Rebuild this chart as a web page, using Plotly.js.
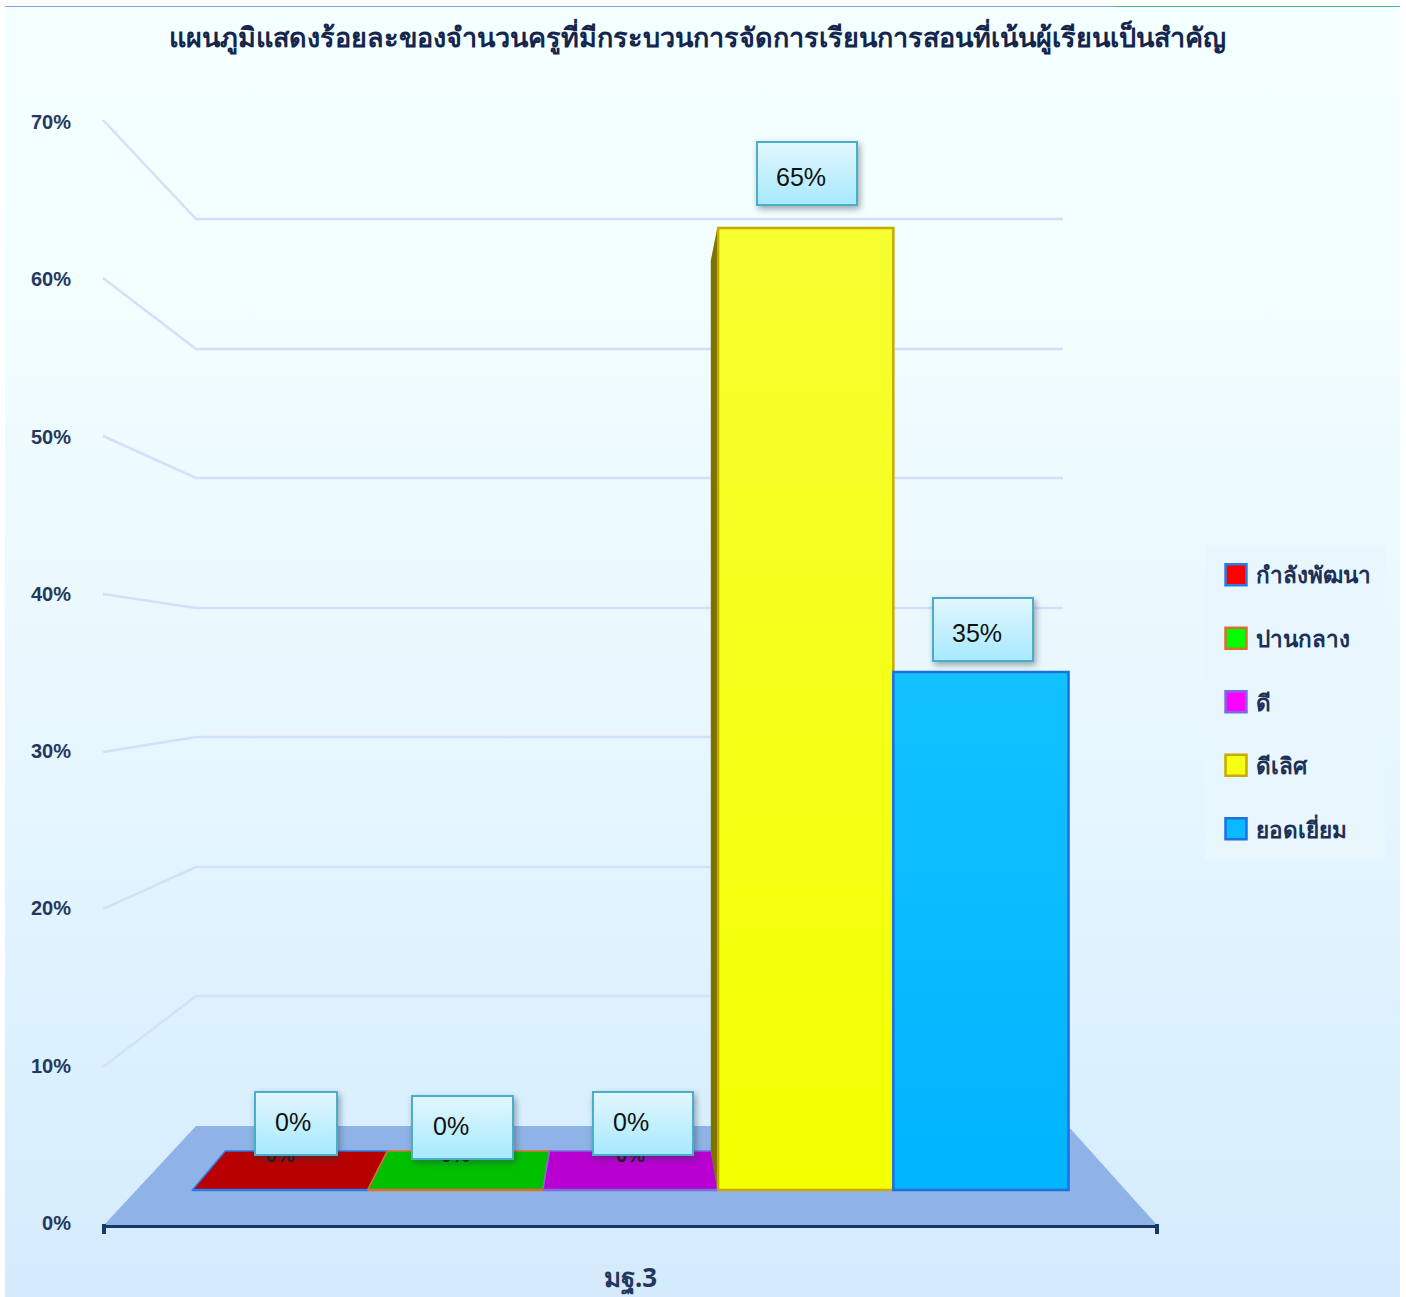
<!DOCTYPE html>
<html>
<head>
<meta charset="utf-8">
<script src="https://cdn.plot.ly/plotly-3.0.1.min.js"></script>
<style>
html,body{margin:0;padding:0;background:#fff;overflow:hidden}
#bg{position:absolute;left:5px;top:7px;width:1395px;height:1290px;
 background:linear-gradient(180deg,#f4ffff 0%,#f1fdff 25%,#e8f7fe 55%,#dcf1fe 80%,#d5ebfc 100%)}
#lineA{position:absolute;left:5px;top:6px;width:1110px;height:1px;background:#7fa9ea}
#lineB{position:absolute;left:1115px;top:6px;width:285px;height:1px;background:#49b57f}
#chart{position:absolute;left:0;top:0;width:1406px;height:1297px}
</style>
</head>
<body>
<div id="bg"></div><div id="lineA"></div><div id="lineB"></div>
<div id="chart"></div>
<script>
// ---- data ----
const titleText = 'แผนภูมิแสดงร้อยละของจำนวนครูที่มีกระบวนการจัดการเรียนการสอนที่เน้นผู้เรียนเป็นสำคัญ';
const category = 'มฐ.3';
const seriesNames = ['กำลังพัฒนา','ปานกลาง','ดี','ดีเลิศ','ยอดเยี่ยม'];
const seriesValues = [0,0,0,65,35];
const seriesColors = ['#ff0000','#00ff00','#ff00ff','#f4ff14','#08baff'];
const seriesLines  = ['#2a7de8','#dd6f2f','#7a6ee0','#c9aa00','#1f6fe0'];
const topColors    = ['#b80000','#00c000','#b800d0','#d5c000','#0090d0'];
const sideColors   = ['#800000','#008000','#800090','#7d7400','#0070a0'];
const tickValues = [0,10,20,30,40,50,60,70];
const tickLabels = ['0%','10%','20%','30%','40%','50%','60%','70%'];
// callout boxes, one per series: box left, top, width, then label centre
const calloutBoxes = [[255,1092,82,63,293,1122],[412,1096,101,63,451,1126],[593,1092,100,63,631,1122],[757,142,100,63,801,177],[933,598,100,63,977,633]];
// back-wall gridlines: pixel y at the front edge and at the back wall
const gridFrontY = [1067,909,752,594,436,278,120];
const gridBackY  = [996,867,737,608,478,349,219];

// ---- geometry ----
const W=1406,H=1297,L=104,R=1157,T=121,B=1225;
const px=x=>(x-L)/(R-L), py=y=>(B-y)/(B-T);
const zeroPx=1190, unitPx=14.8;              // bar scale
const bargap=0.168, n=seriesValues.length, barW=(1-bargap)/n;
const k=0.925, vanishV=35.1;                 // perspective of the extruded faces
const depthV=v=>vanishV+(v-vanishV)*k;
const depthX=x=>x*k;

const shapes=[];
const pxPath=p=>p.map((q,i)=>(i?'L':'M')+px(q[0])+','+py(q[1])).join(' ');
// legend panel
shapes.push({type:'rect',xref:'paper',yref:'paper',layer:'below',x0:px(1205),x1:px(1385),y0:py(860),y1:py(545),fillcolor:'rgba(232,246,254,0.9)',line:{width:0}});
// floor
shapes.push({type:'path',xref:'paper',yref:'paper',layer:'below',path:pxPath([[104,1225],[196,1126],[1068,1126],[1157,1225]])+' Z',fillcolor:'#8fb3e6',line:{width:0}});
// gridlines
gridFrontY.forEach((y,i)=>shapes.push({type:'path',xref:'paper',yref:'paper',layer:'below',path:pxPath([[103,y],[196,gridBackY[i]],[1063,gridBackY[i]]]),fillcolor:'rgba(0,0,0,0)',line:{color:'#d4e0f9',width:2.5}}));
// axis end ticks
[104,1157].forEach(x=>shapes.push({type:'line',xref:'paper',yref:'paper',layer:'above',x0:px(x),x1:px(x),y0:py(1224),y1:py(1234),line:{color:'#17386b',width:4}}));
// extruded faces of each bar, from its value
seriesValues.forEach((v,i)=>{
  const x0=-0.5+bargap/2+i*barW, x1=x0+barW;
  const face=(pts,fill,stroke)=>shapes.push({type:'path',xref:'x',yref:'y2',layer:'below',
    path:pts.map((q,j)=>(j?'L':'M')+q[0]+','+q[1]).join(' ')+' Z',fillcolor:fill,line:{color:stroke,width:1.5}});
  face([[x0,v],[x1,v],[depthX(x1),depthV(v)],[depthX(x0),depthV(v)]],topColors[i],v===0?seriesLines[i]:topColors[i]);
  if(v>0) face([[x0,v],[depthX(x0),depthV(v)],[depthX(x0),depthV(0)],[x0,0]],sideColors[i],sideColors[i]);
});
// callout boxes
const boxIdx=[];
calloutBoxes.forEach(b=>{boxIdx.push(shapes.length);shapes.push({type:'rect',xref:'paper',yref:'paper',layer:'above',
  x0:px(b[0]),x1:px(b[0]+b[2]),y0:py(b[1]+b[3]),y1:py(b[1]),fillcolor:'#c4f0fe',line:{color:'#4aaec9',width:2}});});

// ---- traces ----
const traces=[{type:'scatter',x:[0,0],y:[0,70],xaxis:'x',yaxis:'y',mode:'lines',line:{width:0,color:'rgba(0,0,0,0)'},showlegend:false,hoverinfo:'skip'}];
seriesNames.forEach((name,i)=>traces.push({type:'bar',name,x:[0],y:[seriesValues[i]],xaxis:'x',yaxis:'y2',legendgroup:name,
  marker:{color:seriesColors[i],line:{color:seriesLines[i],width:2.5}},hovertemplate:'%{y}%<extra>'+name+'</extra>'}));
// data labels sitting on the zero-height bars, mostly covered by the callouts
const zeroIdx=seriesValues.map((v,i)=>i).filter(i=>seriesValues[i]===0);
traces.push({type:'scatter',mode:'text',xaxis:'x',yaxis:'y2',showlegend:false,hoverinfo:'skip',
  x:zeroIdx.map(i=>-0.5+bargap/2+(i+0.5)*barW),y:zeroIdx.map(i=>seriesValues[i]+2.2),
  text:zeroIdx.map(i=>seriesValues[i]+'%'),textfont:{size:20,color:'#1c1c1c',family:'"Liberation Sans",sans-serif',weight:700}});

const FONT='"Noto Sans","Liberation Sans",sans-serif';
const annotations=calloutBoxes.map((b,i)=>({xref:'paper',yref:'paper',x:px(b[4]),y:py(b[5]),xanchor:'center',yanchor:'middle',showarrow:false,
  text:seriesValues[i]+'%',font:{family:'"Liberation Sans",sans-serif',size:25,color:'#111'}}));

const layout={
  width:W,height:H,autosize:false,showlegend:true,
  paper_bgcolor:'rgba(0,0,0,0)',plot_bgcolor:'rgba(0,0,0,0)',
  margin:{l:L,r:W-R,t:T,b:H-B,pad:0},
  title:{text:titleText,xref:'paper',yref:'container',x:px(697.5),xanchor:'center',y:1-38/H,yanchor:'middle',
    font:{family:FONT,size:27,color:'#14264d',weight:700}},
  barmode:'group',bargap:bargap,bargroupgap:0,
  xaxis:{type:'linear',range:[-0.5,0.5],tickmode:'array',tickvals:[0],ticktext:[category],ticks:'',showgrid:false,zeroline:false,
    showline:true,linecolor:'#17386b',linewidth:3,ticklabelstandoff:28,tickfont:{family:FONT,size:26,color:'#24385f',weight:700}},
  yaxis:{range:[-0.13,70.06],tickmode:'array',tickvals:tickValues,ticktext:tickLabels,ticks:'',showgrid:false,zeroline:false,showline:false,
    ticklabelstandoff:32,tickfont:{family:'"Liberation Sans",sans-serif',size:20,color:'#24385f',weight:700}},
  yaxis2:{overlaying:'y',side:'left',visible:false,range:[(zeroPx-B)/unitPx,(zeroPx-T)/unitPx],showgrid:false,zeroline:false},
  legend:{x:px(1216),y:py(553.5),xanchor:'left',yanchor:'top',bgcolor:'rgba(0,0,0,0)',borderwidth:0,traceorder:'grouped',tracegroupgap:31.3,
    font:{family:FONT,size:22.5,color:'#1c3058',weight:700},itemclick:false,itemdoubleclick:false},
  shapes,annotations,hovermode:'closest'
};

const gd=document.getElementById('chart');
function polish(){
  const svg=gd.querySelector('svg.main-svg');
  if(!svg.querySelector('#gradBox')){
    const NS='http://www.w3.org/2000/svg', defs=document.createElementNS(NS,'defs');
    const grad=(id,a,b)=>{const g=document.createElementNS(NS,'linearGradient');g.id=id;g.setAttribute('x1','0');g.setAttribute('y1','0');g.setAttribute('x2','0');g.setAttribute('y2','1');
      [[0,a],[1,b]].forEach(s=>{const st=document.createElementNS(NS,'stop');st.setAttribute('offset',s[0]);st.setAttribute('stop-color',s[1]);g.appendChild(st);});defs.appendChild(g);};
    grad('gradBox','#e3f7fe','#a6e9fe');
    grad('gradYellow','#f5ff30','#f4ff00');
    grad('gradBlue','#12c2ff','#00b4ff');
    svg.insertBefore(defs,svg.firstChild);
  }
  boxIdx.forEach(i=>{const p=gd.querySelector('.layer-above .shapelayer path[data-index="'+i+'"]');
    if(p){p.style.fill='url(#gradBox)';p.style.fillOpacity=1;p.style.filter='drop-shadow(2px 3px 3px rgba(40,60,70,.45))';}});
  const bars=gd.querySelectorAll('.barlayer .trace');
  const set=(t,f)=>{if(t){const p=t.querySelector('.point path');if(p)p.style.fill=f;}};
  set(bars[3],'url(#gradYellow)');set(bars[4],'url(#gradBlue)');
  gd.querySelectorAll('.legendpoints path').forEach(p=>{
    if(!p.dataset.scaled){p.dataset.scaled='1';
      p.setAttribute('transform',(p.getAttribute('transform')||'')+' scale(1.75)');
      p.style.vectorEffect='non-scaling-stroke';}
  });
}
Plotly.newPlot(gd,traces,layout,{displayModeBar:false,responsive:false}).then(()=>{polish();gd.on('plotly_afterplot',polish);});
</script>
</body>
</html>
